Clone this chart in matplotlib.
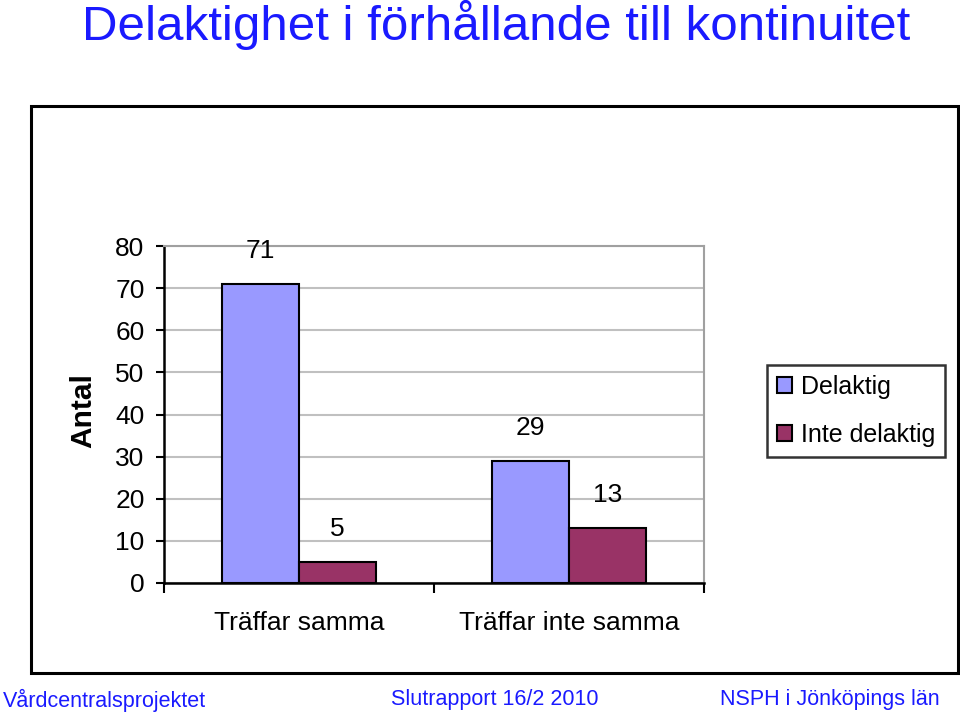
import matplotlib.pyplot as plt
from matplotlib.patches import Rectangle
import numpy as np

plt.rcParams['font.family'] = ['Liberation Sans', 'DejaVu Sans']

categories = ['Träffar samma', 'Träffar inte samma']
series_names = ['Delaktig', 'Inte delaktig']
delaktig = [71, 29]
inte_delaktig = [5, 13]
yticks = [0, 10, 20, 30, 40, 50, 60, 70, 80]

blue = '#9999ff'
red = '#993366'
title_color = '#1a1aff'

fig = plt.figure(figsize=(9.6, 7.18), dpi=100)

# outer chart frame
frame = Rectangle((31 / 960, 1 - 673 / 718), (958 - 31) / 960, (673 - 106) / 718,
                  transform=fig.transFigure, fill=False, edgecolor='black', linewidth=2.2)
fig.patches.append(frame)

ax = fig.add_axes([164 / 960, 1 - 583 / 718, 540 / 960, 337 / 718])

x = np.arange(len(categories))
w = 0.285
b1 = ax.bar(x - w / 2, delaktig, w, color=blue, edgecolor='black', linewidth=1.5,
            label=series_names[0], zorder=3)
b2 = ax.bar(x + w / 2, inte_delaktig, w, color=red, edgecolor='black', linewidth=1.5,
            label=series_names[1], zorder=3)

for bars, vals in [(b1, delaktig), (b2, inte_delaktig)]:
    for rect, v in zip(bars, vals):
        ax.annotate(str(v), (rect.get_x() + rect.get_width() / 2, v),
                    xytext=(0, 24), textcoords='offset points',
                    ha='center', va='center', fontsize=19)

ax.set_xlim(-0.5, 1.5)
ax.set_ylim(0, 80)
ax.set_yticks(yticks)
ax.set_yticklabels([str(t) for t in yticks], fontsize=19)
ax.yaxis.grid(True, color='#c0c0c0', linewidth=1.5, zorder=0)
ax.set_xticks([-0.5, 0.5, 1.5])
ax.set_xticklabels([])
ax.set_xticks(x, minor=True)
ax.set_xticklabels(categories, minor=True, fontsize=19)
ax.tick_params(axis='x', which='minor', length=0, pad=20)
ax.tick_params(axis='x', which='major', length=7, width=1.5, direction='out')
ax.tick_params(axis='y', length=6, width=1.5, direction='out', pad=8)

for s in ['left', 'bottom']:
    ax.spines[s].set_linewidth(1.8)
    ax.spines[s].set_color('black')
for s in ['top', 'right']:
    ax.spines[s].set_linewidth(1.5)
    ax.spines[s].set_color('#a0a0a0')

fig.text(83 / 960, 1 - 411 / 718, 'Antal', rotation=90, ha='center', va='center',
         fontsize=21.5, fontweight='bold')

leg = ax.legend(loc='upper left', bbox_to_anchor=(767 / 960, 1 - 365 / 718),
                bbox_transform=fig.transFigure, fontsize=18, frameon=True,
                fancybox=False, edgecolor='black', handlelength=0.6, handleheight=0.6,
                handletextpad=0.35, borderpad=0.4, labelspacing=0.95, borderaxespad=0)
leg.get_frame().set_linewidth(1.8)

fig.text(496 / 960, 1 - 25 / 718, 'Delaktighet i förhållande till kontinuitet',
         ha='center', va='center', fontsize=35.5, color=title_color)

fig.text(3 / 960, 1 - 700 / 718, 'Vårdcentralsprojektet', ha='left', va='center',
         fontsize=15.5, color=title_color)
fig.text(495 / 960, 1 - 700 / 718, 'Slutrapport 16/2 2010', ha='center', va='center',
         fontsize=15.5, color=title_color)
fig.text(940 / 960, 1 - 700 / 718, 'NSPH i Jönköpings län', ha='right', va='center',
         fontsize=15.5, color=title_color)

fig.savefig('out.png', dpi=100)
